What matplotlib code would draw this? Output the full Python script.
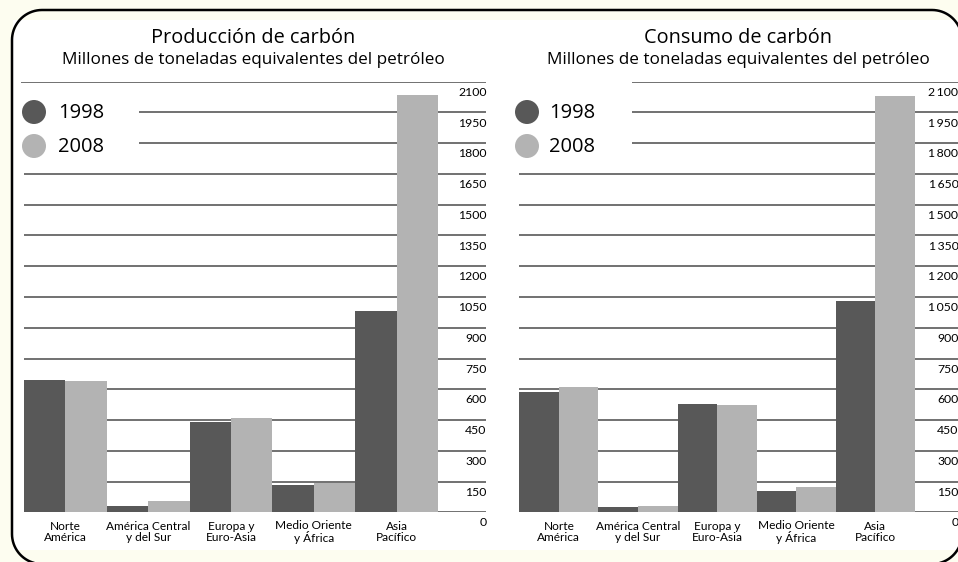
import matplotlib
matplotlib.use("Agg")
import matplotlib.pyplot as plt
from matplotlib.patches import Rectangle, Circle, PathPatch
from matplotlib.path import Path
import numpy as np

regions = ["Norte\nAmérica", "América Central\ny del Sur", "Europa y\nEuro-Asia",
           "Medio Oriente\ny África", "Asia\nPacífico"]
prod_1998 = [647, 31, 440, 135, 980]
prod_2008 = [639, 57, 460, 144, 2033]
cons_1998 = [587, 24, 530, 104, 1032]
cons_2008 = [612, 30, 523, 124, 2028]
ticks = [0, 150, 300, 450, 600, 750, 900, 1050, 1200, 1350, 1500, 1650, 1800, 1950, 2100]
left_labels = [str(t) for t in ticks]
right_labels = ["{:,}".format(t).replace(",", "\u2009") for t in ticks]
years = ["1998", "2008"]

dark = "#585858"
light = "#b3b3b3"
grid = "#4a4a4a"
cream = "#fdfdf0"

W, H = 958, 562
fig = plt.figure(figsize=(W / 100, H / 100), dpi=100, facecolor=cream)


def Y(y):
    # pixel row (from top) -> bottom-up coordinate
    return H - y


def rounded_frame(x0, y0, x1, y1, r):
    # closed rounded rectangle, corners as quarter circles
    pts = []
    for cx, cy, a0 in [(x1 - r, y1 - r, 0), (x0 + r, y1 - r, 90),
                       (x0 + r, y0 + r, 180), (x1 - r, y0 + r, 270)]:
        a = np.radians(np.linspace(a0, a0 + 90, 20))
        pts += list(zip(cx + r * np.cos(a), cy + r * np.sin(a)))
    pts.append(pts[0])
    return Path(pts)


# background, frame, titles, legends in pixel coords
bg = fig.add_axes([0, 0, 1, 1], zorder=0)
bg.set_xlim(0, W)
bg.set_ylim(0, H)
bg.axis("off")
bg.add_patch(Rectangle((13, Y(550)), 945, 530, facecolor="white", edgecolor="none"))
bg.add_patch(PathPatch(rounded_frame(12, Y(564), 962, Y(10), 30), facecolor="none",
                       edgecolor="black", lw=1.8, clip_on=False))

font = "Open Sans"
small = "Lato"

bg.text(253, Y(38), "Producción de carbón", ha="center", va="center", fontsize=14.3, family=font)
bg.text(253, Y(60), "Millones de toneladas equivalentes del petróleo", ha="center", va="center",
        fontsize=12.3, family=font)
bg.text(738, Y(38), "Consumo de carbón", ha="center", va="center", fontsize=14.3, family=font)
bg.text(738, Y(60), "Millones de toneladas equivalentes del petróleo", ha="center", va="center",
        fontsize=12.3, family=font)

for cx, tx in [(34, 58), (527, 549)]:
    for cy, col, yr in [(112, dark, years[0]), (146, light, years[1])]:
        bg.add_patch(Circle((cx, Y(cy)), 12, facecolor=col, edgecolor="none"))
        bg.text(tx, Y(cy + 1), yr, ha="left", va="center", fontsize=14.5, family=font)


def draw_panel(left_px, right_px, bar_left, bar_right, v98, v08, labels, starts):
    unit = (bar_right - bar_left) / 5.0
    x0 = -0.5 - (bar_left - left_px) / unit
    x1 = 4.5 + (right_px - bar_right) / unit
    y0, y1 = 512.3, 81.7
    ax = fig.add_axes([left_px / W, (H - y0) / H, (right_px - left_px) / W, (y0 - y1) / H], zorder=1)
    ax.set_facecolor("none")
    ax.set_xlim(x0, x1)
    ax.set_ylim(0, 2100)
    ax.axis("off")
    x = np.arange(len(regions))
    for t in ticks:
        s = starts.get(t, -0.5)
        s = x0 if s is None else s
        ax.hlines(t, s, x1, color=grid, lw=1.1, zorder=1)
    ax.bar(x - 0.25, v98, width=0.5, color=dark, zorder=2)
    ax.bar(x + 0.25, v08, width=0.5, color=light, zorder=2)
    lab_x = 4.5 + (right_px + 0.5 - bar_right) / unit
    for t, lab in zip(ticks, labels):
        ax.text(lab_x, t - 52, lab, ha="right", va="center", fontsize=8.8, family=small,
                clip_on=False)
    for i, r in enumerate(regions):
        ax.text(i, -96, r, ha="center", va="center", fontsize=8.6, family=small,
                linespacing=1.0, clip_on=False)
    return ax


unit_l = (438 - 24) / 5.0
start_l = -0.5 + (139 - 24) / unit_l
draw_panel(21, 486, 24, 438, prod_1998, prod_2008, left_labels,
           {2100: None, 1950: start_l, 1800: start_l})

unit_r = (915 - 519.3) / 5.0
start_r = -0.5 + (632 - 519.3) / unit_r
draw_panel(517, 958, 519.3, 915, cons_1998, cons_2008, right_labels,
           {2100: start_r, 1950: start_r, 1800: start_r})

fig.savefig("out.png", dpi=100, facecolor=cream)
